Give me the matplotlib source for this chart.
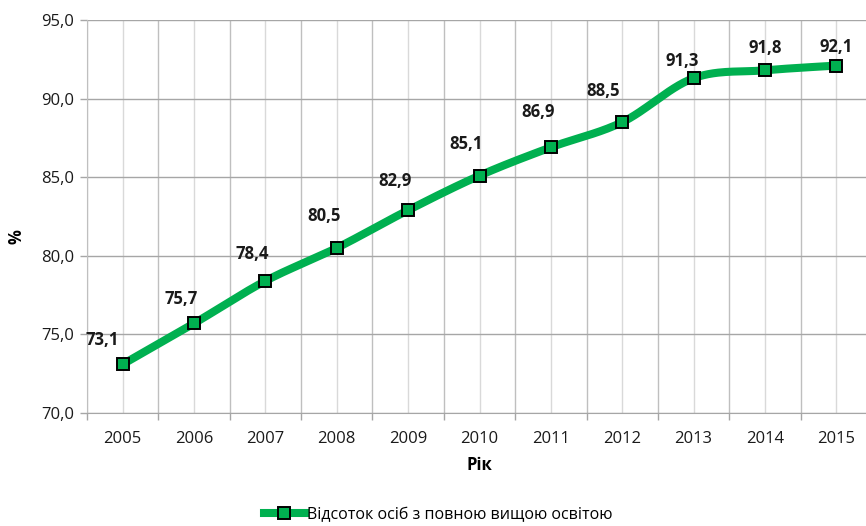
import numpy as np
import matplotlib
matplotlib.use('Agg')
from matplotlib import pyplot as plt
from matplotlib.ticker import FixedLocator, NullFormatter

plt.rcParams['font.family'] = ['Open Sans', 'DejaVu Sans']

years = ['2005', '2006', '2007', '2008', '2009', '2010', '2011', '2012', '2013', '2014', '2015']
values = [73.1, 75.7, 78.4, 80.5, 82.9, 85.1, 86.9, 88.5, 91.3, 91.8, 92.1]
series_name = 'Відсоток осіб з повною вищою освітою'

# зсув підписів (пікселі)
label_dx = [-20, -13, -13, -13, -13, -13, -13, -19, -11, 0, 0]
label_dy = [24, 24, 27, 32, 29, 32, 35, 31, 17, 22, 19]

green = '#00B050'

fig = plt.figure(figsize=(8.66, 5.26), dpi=100)
W, H = 866, 526
ax = fig.add_axes([87 / W, 1 - 413 / H, (872 - 87) / W, 393 / H])

x = np.arange(len(years))
y = np.array(values)

# згладжена лінія як в Excel (Catmull-Rom / Bezier)
px = np.concatenate([[x[0]], x, [x[-1]]])
py = np.concatenate([[y[0]], y, [y[-1]]])
sx, sy = [], []
t = np.linspace(0, 1, 30)
for i in range(1, len(px) - 2):
    p0 = np.array([px[i], py[i]])
    p3 = np.array([px[i + 1], py[i + 1]])
    p1 = p0 + (np.array([px[i + 1], py[i + 1]]) - np.array([px[i - 1], py[i - 1]])) / 6
    p2 = p3 - (np.array([px[i + 2], py[i + 2]]) - np.array([px[i], py[i]])) / 6
    b = ((1 - t) ** 3)[:, None] * p0 + (3 * (1 - t) ** 2 * t)[:, None] * p1 \
        + (3 * (1 - t) * t ** 2)[:, None] * p2 + (t ** 3)[:, None] * p3
    sx.extend(b[:, 0])
    sy.extend(b[:, 1])

ax.plot(sx, sy, color=green, lw=5.8, solid_capstyle='round', zorder=3)
ax.plot(x, y, ls='none', marker='s', ms=9, mfc=green, mec='black', mew=1.4, zorder=4)
ax.plot([], [], color=green, lw=5.8, marker='s', ms=9, mfc=green, mec='black',
        mew=1.4, label=series_name)

for i, v in enumerate(values):
    ax.annotate(f'{v:.1f}'.replace('.', ','), (x[i], v), xytext=(label_dx[i] * 0.72, label_dy[i] * 0.72),
                textcoords='offset points', ha='center', va='center',
                fontsize=12, fontweight='bold', color='#1a1a1a', zorder=5)

ax.set_xlim(-0.5, len(years) - 0.5)
ax.set_ylim(70, 95)
ax.set_yticks(np.arange(70, 96, 5))
ax.set_yticklabels([f'{v:.1f}'.replace('.', ',') for v in np.arange(70, 96, 5)])

ax.xaxis.set_major_locator(FixedLocator(np.arange(-0.5, len(years), 1)))
ax.xaxis.set_major_formatter(NullFormatter())
ax.xaxis.set_minor_locator(FixedLocator(x))
ax.set_xticklabels(years, minor=True)
ax.tick_params(axis='x', which='major', length=5, color='#A6A6A6', width=1)
ax.tick_params(axis='x', which='minor', length=0, pad=13, labelsize=12, labelcolor='#1a1a1a')
ax.tick_params(axis='y', length=5, color='#A6A6A6', width=1, labelsize=12, labelcolor='#1a1a1a', pad=4)

ax.grid(True, axis='y', color='#A6A6A6', lw=1)
ax.grid(True, axis='x', which='major', color='#BFBFBF', lw=1)
ax.grid(True, axis='x', which='minor', color='#D9D9D9', lw=1)
ax.set_axisbelow(True)
for s in ['top', 'right']:
    ax.spines[s].set_visible(False)
ax.spines['left'].set_color('#BFBFBF')
ax.spines['bottom'].set_color('#A6A6A6')

ax.set_xlabel('Рік', fontsize=12, fontweight='bold')
ax.xaxis.set_label_coords(0.5, -(456 - 413) / 393)
ax.set_ylabel('%', fontsize=12, fontweight='bold')
ax.yaxis.set_label_coords(-(87 - 25) / 785, (413 - 237) / 393)

fig.legend(loc='center', bbox_to_anchor=(438 / W, 1 - 515 / H), frameon=False,
           fontsize=11.5, handlelength=2.6, handletextpad=0.1)

fig.savefig('out.png', dpi=100)
